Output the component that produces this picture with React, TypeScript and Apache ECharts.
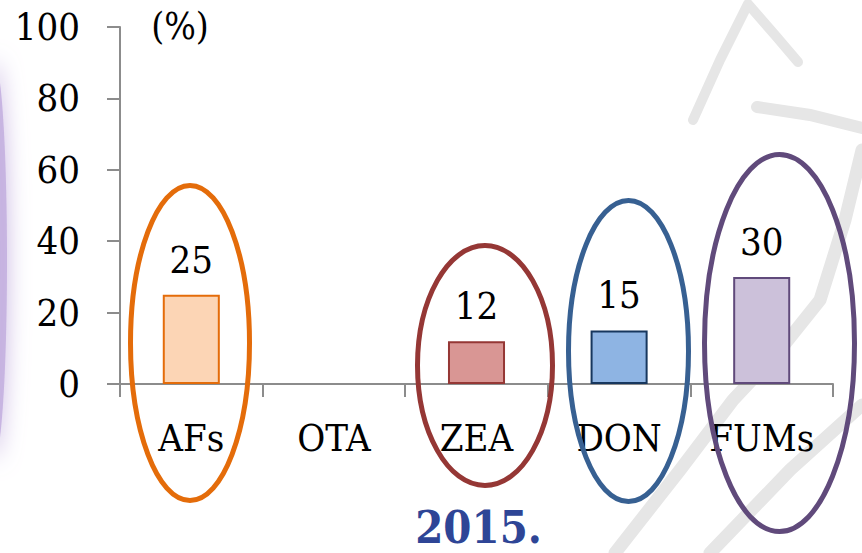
import React, { useEffect, useRef } from "react";
import * as echarts from "echarts";

const categories = ["AFs", "OTA", "ZEA", "DON", "FUMs"];
const values: (number | null)[] = [25, null, 12, 15, 30];
const fillColors = ["#FCD5B5", "#FFFFFF", "#D99694", "#8EB4E3", "#CCC1DA"];
const borderColors = ["#E46C0A", "#FFFFFF", "#953735", "#17375E", "#604A7B"];
const yTicks = { min: 0, max: 100, interval: 20 };
const unitLabel = "(%)";
const yearTitle = "2015.";

const SERIF = "'DejaVu Serif Condensed', 'DejaVu Serif', serif";

export default function App() {
  const ref = useRef<HTMLDivElement>(null);
  useEffect(() => {
    if (!ref.current) return;
    const chart = echarts.init(ref.current, undefined, { renderer: "svg" });
    const stroke = "#E6E6E6";
    chart.setOption({
      animation: false,
      backgroundColor: "#FFFFFF",
      grid: { left: 120, right: 29, top: 27, bottom: 169, containLabel: false },
      xAxis: {
        type: "category",
        data: categories,
        boundaryGap: true,
        axisLine: { lineStyle: { color: "#8C8C8C", width: 2 } },
        axisTick: { show: true, length: 13, lineStyle: { color: "#8C8C8C", width: 2 } },
        axisLabel: { color: "#000", fontSize: 38, fontFamily: SERIF, margin: 35 },
      },
      yAxis: {
        type: "value",
        min: yTicks.min,
        max: yTicks.max,
        interval: yTicks.interval,
        splitLine: { show: false },
        axisLine: { show: true, lineStyle: { color: "#8C8C8C", width: 2 } },
        axisTick: { show: true, length: 13, lineStyle: { color: "#8C8C8C", width: 2 } },
        axisLabel: { color: "#000", fontSize: 38, fontFamily: SERIF, margin: 40 },
      },
      series: [
        {
          type: "bar",
          barWidth: "40%",
          data: values.map((v, i) => ({
            value: v,
            itemStyle: { color: fillColors[i], borderColor: borderColors[i], borderWidth: 2 },
          })),
          label: {
            show: true,
            position: "top",
            distance: 16,
            color: "#000",
            fontSize: 38,
            fontFamily: SERIF,
          },
          z: 2,
        },
      ],
      graphic: [
        // left lavender glow
        {
          type: "ellipse",
          z: -1,
          silent: true,
          shape: { cx: -6, cy: 260, rx: 13, ry: 200 },
          style: {
            fill: "rgba(196,176,224,0.9)",
            shadowBlur: 22,
            shadowColor: "rgba(196,176,224,1)",
          },
        },
        // right brush strokes
        {
          type: "polyline",
          z: -1,
          silent: true,
          shape: { points: [[693, 120], [720, 60], [748, 4], [775, 35], [798, 62]] },
          style: { stroke, lineWidth: 10, fill: null, lineCap: "round", lineJoin: "round" },
        },
        {
          type: "polyline",
          z: -1,
          silent: true,
          shape: { points: [[757, 107], [810, 115], [862, 128]] },
          style: { stroke, lineWidth: 12, fill: null, lineCap: "round" },
        },
        {
          type: "polyline",
          z: -1,
          silent: true,
          shape: { points: [[862, 150], [845, 220], [820, 300], [780, 350], [733, 400], [680, 470], [615, 553]] },
          style: { stroke, lineWidth: 13, fill: null, lineCap: "round", lineJoin: "round" },
        },
        {
          type: "polyline",
          z: -1,
          silent: true,
          shape: { points: [[862, 405], [790, 470], [710, 553]] },
          style: { stroke, lineWidth: 13, fill: null, lineCap: "round" },
        },
        // unit label
        {
          type: "text",
          z: 10,
          x: 180,
          y: 26,
          style: { text: unitLabel, fontSize: 37, fontFamily: SERIF, fill: "#000", align: "center", verticalAlign: "middle" },
        },
        // ellipses
        {
          type: "ellipse",
          z: 100,
          shape: { cx: 190, cy: 343, rx: 59.5, ry: 157.5 },
          style: { fill: null, stroke: "#E46C0A", lineWidth: 5 },
        },
        {
          type: "ellipse",
          z: 100,
          shape: { cx: 485, cy: 365.5, rx: 67.5, ry: 120 },
          style: { fill: null, stroke: "#953735", lineWidth: 5 },
        },
        {
          type: "ellipse",
          z: 100,
          shape: { cx: 628.5, cy: 351, rx: 60, ry: 150.5 },
          style: { fill: null, stroke: "#376092", lineWidth: 5 },
        },
        {
          type: "ellipse",
          z: 100,
          shape: { cx: 779.5, cy: 343, rx: 75, ry: 188.5 },
          style: { fill: null, stroke: "#604A7B", lineWidth: 5 },
        },
        // year title
        {
          type: "text",
          z: 10,
          x: 478.5,
          y: 527,
          style: {
            text: yearTitle,
            fontSize: 45,
            lineHeight: 40,
            fontWeight: "bold",
            fontFamily: SERIF,
            fill: "#2E4596",
            align: "center",
            verticalAlign: "middle",
          },
        },
      ],
    });
    return () => chart.dispose();
  }, []);
  return (
    <div
      ref={ref}
      style={{ position: "absolute", left: 0, top: 0, width: 862, height: 553 }}
    />
  );
}
